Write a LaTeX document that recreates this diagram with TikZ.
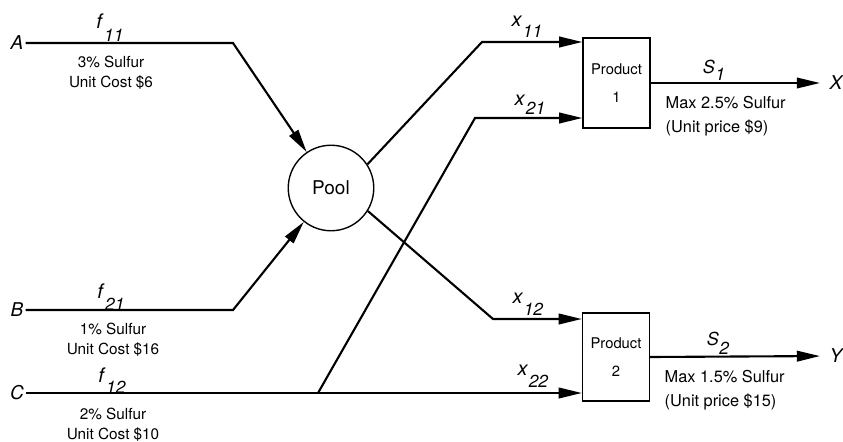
\documentclass[tikz,border=0pt]{standalone}
\usepackage{fontspec}
\setmainfont{TeX Gyre Heros}
\usetikzlibrary{arrows.meta}

\newcommand{\flowlbl}[3][11pt]{\textit{#2}\kern0.5pt\raisebox{-#1}{\fontsize{16.5}{16.5}\selectfont\textit{#3}}}

\begin{document}
\begin{tikzpicture}[
  x=0.03333cm, y=-0.03333cm,
  flow/.style={-{Triangle[length=22pt,width=10pt]},line width=2pt},
  src/.style={font=\fontsize{18}{18}\selectfont\itshape,inner sep=2pt},
  flbl/.style={anchor=base,inner sep=0pt,font=\fontsize{19}{19}\selectfont},
  note/.style={align=center,font=\fontsize{14.5}{19}\selectfont},
  spec/.style={align=left,anchor=west,font=\fontsize{15.5}{23}\selectfont},
  prodbox/.style={draw,line width=1.3pt,minimum width=2.23cm,minimum height=3cm,
    align=center,font=\fontsize{14}{26}\selectfont}
]
  \useasboundingbox (0,0) rectangle (843,442);

  % feeds
  \node[src] (srcA) at (17,43) {A};
  \node[src] (srcB) at (17,310) {B};
  \node[src] (srcC) at (17,393) {C};

  \node[flbl] (f11) at (110,28) {\flowlbl[13pt]{f}{11}};
  \node[flbl] (f21) at (111,298) {\flowlbl[12pt]{f}{21}};
  \node[flbl] (f12) at (112,382) {\flowlbl[11pt]{f}{12}};

  \node[note] (qA) at (111,73) {3\% Sulfur\\Unit Cost \$6};
  \node[note] (qB) at (113,340) {1\% Sulfur\\Unit Cost \$16};
  \node[note] (qC) at (113,425) {2\% Sulfur\\Unit Cost \$10};

  % pool and products
  \node[circle,draw,line width=1.3pt,minimum size=2.85cm,
    font=\fontsize{18}{18}\selectfont] (pool) at (331,188) {Pool};
  \node[prodbox] (prod1) at (616.5,83) {Product\\1};
  \node[prodbox,minimum height=2.93cm] (prod2) at (616,357) {Product\\2};

  \coordinate (a1) at (233,43);
  \coordinate (b1) at (233,310);
  \coordinate (c1) at (318,393);
  \coordinate (p11) at (482,42);
  \coordinate (p21) at (475,118);
  \coordinate (p12) at (493,319);

  \draw[flow] (srcA.east) -- (a1) -- (pool);
  \draw[flow] (srcB.east) -- (b1) -- (pool);
  \draw[flow] (srcC.east) -- (srcC.east -| prod2.west);

  \draw[flow] (pool.33) -- (p11) -- (p11 -| prod1.west);
  \draw[flow] (c1) -- (p21) -- (p21 -| prod1.west);
  \draw[flow] (pool.-32) -- (p12) -- (p12 -| prod2.west);

  \node[flbl] (x11) at (527,26) {\flowlbl{x}{11}};
  \node[flbl] (x21) at (530,105) {\flowlbl[9pt]{x}{21}};
  \node[flbl] (x12) at (528,303) {\flowlbl[12pt]{x}{12}};
  \node[flbl] (x22) at (533,375) {\flowlbl[12pt]{x}{22}};

  % outputs
  \node[src] (outX) at (836,83) {X};
  \node[src] (outY) at (836,356) {Y};
  \draw[flow,shorten >=7pt] (prod1.east) -- (outX.west);
  \draw[flow,shorten >=7pt] (prod2.east) -- (outY.west);

  \node[flbl,font=\fontsize{17}{17}\selectfont] (s1) at (714,73) {\flowlbl[7pt]{S}{1}};
  \node[flbl,font=\fontsize{17}{17}\selectfont] (s2) at (718,345) {\flowlbl[9pt]{S}{2}};

  \node[spec] (spec1) at (662,116) {Max 2.5\% Sulfur\\(Unit price \$9)};
  \node[spec] (spec2) at (661,390) {Max 1.5\% Sulfur\\(Unit price \$15)};
\end{tikzpicture}
\end{document}
